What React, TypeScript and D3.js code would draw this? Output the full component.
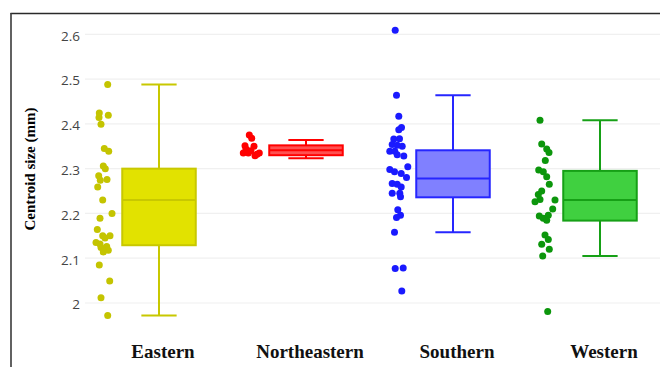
import React from "react";
import * as d3 from "d3";

const categories = ["Eastern", "Northeastern", "Southern", "Western"];

const easternValues = [2.488, 2.424, 2.414, 2.419, 2.399, 2.345, 2.339, 2.306, 2.300, 2.284, 2.274, 2.276, 2.259, 2.230, 2.200, 2.189, 2.164, 2.150, 2.150, 2.145, 2.135, 2.132, 2.126, 2.124, 2.118, 2.114, 2.085, 2.049, 2.012, 1.972];
const easternJitter = [0.37, -0.47, -0.5, 0.43, -0.3, 0.03, 0.47, -0.07, 0.13, -0.53, -0.37, 0.3, -0.63, -0.13, 0.8, -0.4, -0.67, -0.13, 0.6, 0.1, -0.8, -0.4, 0.27, -0.3, 0.43, -0.07, -0.47, 0.57, -0.3, 0.37];

const northeasternValues = [2.375, 2.368, 2.351, 2.350, 2.344, 2.340, 2.335, 2.335, 2.335, 2.332, 2.329];
const northeasternJitter = [-0.17, 0.07, -0.6, 0.3, -0.5, 0, -0.77, -0.27, 0.83, 0.6, 0.4];

const southernValues = [2.609, 2.464, 2.417, 2.392, 2.387, 2.367, 2.366, 2.354, 2.352, 2.350, 2.339, 2.339, 2.331, 2.328, 2.304, 2.298, 2.293, 2.289, 2.280, 2.267, 2.265, 2.259, 2.245, 2.245, 2.237, 2.208, 2.196, 2.191, 2.158, 2.078, 2.077, 2.027];
const southernJitter = [-0.28, -0.15, 0.08, 0.35, 0.08, 0.15, -0.42, -0.58, -0.08, 0.42, -0.82, -0.32, -0.08, 0.58, 0.98, -0.82, -0.35, 0.32, 0.85, -0.58, -0.08, 0.32, -0.58, 0.18, 0.25, -0.02, 0.25, -0.15, -0.35, 0.52, -0.28, 0.38];

const westernValues = [2.408, 2.355, 2.344, 2.336, 2.318, 2.297, 2.293, 2.282, 2.265, 2.250, 2.242, 2.231, 2.230, 2.226, 2.210, 2.196, 2.194, 2.189, 2.185, 2.152, 2.142, 2.131, 2.120, 2.105, 1.981];
const westernJitter = [-0.5, -0.33, 0.17, 0.4, 0.03, -0.63, -0.17, 0.17, 0.43, -0.33, -0.67, -0.5, 1.0, -1.0, 0.77, 0.33, -0.57, -0.17, 0.17, 0.0, 0.33, -0.33, 0.43, -0.23, 0.27];

// box statistics
const boxLow = [1.972, 2.323, 2.158, 2.105];
const boxQ1 = [2.129, 2.330, 2.236, 2.184];
const boxMedian = [2.230, 2.341, 2.278, 2.230];
const boxQ3 = [2.300, 2.352, 2.341, 2.295];
const boxHigh = [2.488, 2.364, 2.464, 2.408];

const yTicks = [2, 2.1, 2.2, 2.3, 2.4, 2.5, 2.6];
const yTickLabels = ["2", "2.1", "2.2", "2.3", "2.4", "2.5", "2.6"];

const pointSets = [
  { values: easternValues, jitter: easternJitter },
  { values: northeasternValues, jitter: northeasternJitter },
  { values: southernValues, jitter: southernJitter },
  { values: westernValues, jitter: westernJitter },
];

const strokeColors = ["#c8c800", "#ff0000", "#2626ff", "#16a016"];
const pointColors = ["#c4c400", "#ff0000", "#1a1aff", "#0c960c"];
const fillColors = ["#e2e200", "#ff5050", "#8080ff", "#40d040"];

const W = 660;
const H = 367;

export default function App() {
  const x = d3.scaleBand<string>().domain(categories).range([85.5, 673.5]).padding(0);
  const y = d3.scaleLinear().domain([2, 2.6]).range([303, 34.3]);
  const bw = x.bandwidth();
  const boxW = bw * 0.5;
  const capW = boxW * 0.48;
  const pointOffset = -55;
  const jitterW = 10;

  return (
    <svg
      width={W}
      height={H}
      style={{ position: "absolute", left: 0, top: 0, background: "#fff" }}
    >
      <rect x={0} y={0} width={W} height={H} fill="#fff" />
      {yTicks.map((t, i) => (
        <line key={"g" + i} x1={85} x2={W} y1={y(t)} y2={y(t)} stroke="#f0f0f0" strokeWidth={1.2} />
      ))}
      <line x1={10.5} x2={W} y1={13.5} y2={13.5} stroke="#2a2a2a" strokeWidth={1.6} />
      <line x1={11} x2={11} y1={13} y2={H} stroke="#3a3a3a" strokeWidth={1.6} />
      {yTicks.map((t, i) => (
        <text
          key={"t" + i}
          x={80}
          y={y(t) + 1.5}
          dy="0.36em"
          textAnchor="end"
          fontFamily="'Open Sans', sans-serif"
          fontSize={13.5}
          fill="#444"
        >
          {yTickLabels[i]}
        </text>
      ))}
      <text
        transform={`translate(35,169) rotate(-90)`}
        textAnchor="middle"
        fontFamily="'Liberation Serif', 'Times New Roman', serif"
        fontWeight="bold"
        fontSize={15}
        fill="#000"
      >
        Centroid size (mm)
      </text>
      {categories.map((c, i) => {
        const cx = (x(c) as number) + bw / 2;
        const px = cx + pointOffset;
        const ps = pointSets[i];
        return (
          <g key={c}>
            <line x1={cx} x2={cx} y1={y(boxHigh[i])} y2={y(boxQ3[i])} stroke={strokeColors[i]} strokeWidth={2} />
            <line x1={cx} x2={cx} y1={y(boxQ1[i])} y2={y(boxLow[i])} stroke={strokeColors[i]} strokeWidth={2} />
            <line x1={cx - capW / 2} x2={cx + capW / 2} y1={y(boxHigh[i])} y2={y(boxHigh[i])} stroke={strokeColors[i]} strokeWidth={2} />
            <line x1={cx - capW / 2} x2={cx + capW / 2} y1={y(boxLow[i])} y2={y(boxLow[i])} stroke={strokeColors[i]} strokeWidth={2} />
            <rect
              x={cx - boxW / 2}
              y={y(boxQ3[i])}
              width={boxW}
              height={y(boxQ1[i]) - y(boxQ3[i])}
              fill={fillColors[i]}
              stroke={strokeColors[i]}
              strokeWidth={2}
            />
            <line x1={cx - boxW / 2} x2={cx + boxW / 2} y1={y(boxMedian[i])} y2={y(boxMedian[i])} stroke={strokeColors[i]} strokeWidth={2} />
            {ps.values.map((v, j) => (
              <circle key={j} cx={px + ps.jitter[j] * jitterW} cy={y(v)} r={3.5} fill={pointColors[i]} />
            ))}
            <text
              x={cx + 4}
              y={358}
              textAnchor="middle"
              fontFamily="'Liberation Serif', 'Times New Roman', serif"
              fontWeight="bold"
              fontSize={19}
              fill="#111"
            >
              {c}
            </text>
          </g>
        );
      })}
    </svg>
  );
}
